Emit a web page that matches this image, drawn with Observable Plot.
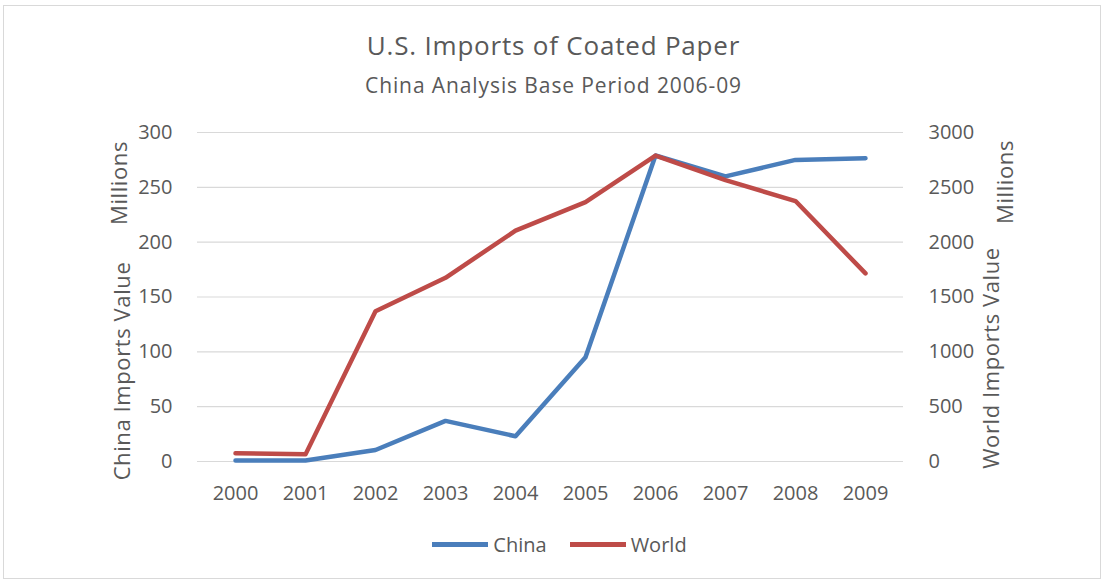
<!DOCTYPE html>
<html>
<head>
<meta charset="utf-8">
<script src="https://cdn.jsdelivr.net/npm/d3@7"></script>
<script src="https://cdn.jsdelivr.net/npm/@observablehq/plot@0.6"></script>
<style>
  html, body { margin: 0; padding: 0; background: #fff; }
  #wrap { position: relative; width: 1107px; height: 584px; overflow: hidden; font-family: "Open Sans", sans-serif; color: #595959; }
  #frame { position: absolute; left: 3px; top: 5px; width: 1098px; height: 574px; border: 1px solid #d9d9d9; box-sizing: border-box; }
  #chart { position: absolute; left: 0; top: 0; }
  .t { position: absolute; white-space: nowrap; }
  #title { left: 0; width: 1107px; text-align: center; top: 28px; font-size: 26px; letter-spacing: 0.8px; color: #595959; line-height: 34px; }
  #subtitle { left: 0; width: 1107px; text-align: center; top: 71px; font-size: 21px; letter-spacing: 0.9px; color: #595959; line-height: 28px; }
  .vlab { position: absolute; white-space: nowrap; transform: translate(-50%, -50%) rotate(-90deg); font-size: 22px; letter-spacing: 0.6px; color: #595959; }
  #legend { position: absolute; top: 531px; left: 6px; width: 1107px; display: flex; justify-content: center; gap: 23px; font-size: 20px; color: #595959; }
  .li { display: flex; align-items: center; gap: 5px; }
  .sw { display: inline-block; width: 56px; height: 5px; }
</style>
</head>
<body>
<div id="wrap">
  <div id="frame"></div>
  <div id="chart"></div>
  <div class="t" id="title">U.S. Imports of Coated Paper</div>
  <div class="t" id="subtitle">China Analysis Base Period 2006-09</div>
  <div class="vlab" style="left:121px; top:371px;">China Imports Value</div>
  <div class="vlab" style="left:118px; top:183px;">Millions</div>
  <div class="vlab" style="left:990px; top:358px;">World Imports Value</div>
  <div class="vlab" style="left:1004px; top:182px;">Millions</div>
  <div id="legend"></div>
</div>
<script>
const years = ["2000","2001","2002","2003","2004","2005","2006","2007","2008","2009"];
const china = [1, 1, 10.5, 37, 23, 95, 279, 260, 275, 276.5];
const world = [75, 65, 1370, 1675, 2105, 2365, 2790, 2565, 2375, 1715];
const leftTicks = [0, 50, 100, 150, 200, 250, 300];
const rightFactor = 10; // right axis 0–3000 maps onto left 0–300
const seriesNames = ["China", "World"];
const seriesColors = ["#4a7ebb", "#be4b48"];

const chinaRows = years.map((y, i) => ({year: y, v: china[i]}));
const worldRows = years.map((y, i) => ({year: y, v: world[i] / rightFactor}));

const plot = Plot.plot({
  width: 1107,
  height: 584,
  marginTop: 132,
  marginBottom: 123,
  marginLeft: 197,
  marginRight: 204,
  style: {fontFamily: "Open Sans, sans-serif", fontSize: "20px", color: "#595959", background: "transparent"},
  x: {type: "point", domain: years, padding: 0.5},
  y: {domain: [0, 300]},
  marks: [
    Plot.gridY(leftTicks, {stroke: "#d9d9d9", strokeOpacity: 1, strokeWidth: 1.2}),
    Plot.axisY(leftTicks, {anchor: "left", tickSize: 0, tickPadding: 25, label: null}),
    Plot.axisY(leftTicks, {anchor: "right", tickSize: 0, tickPadding: 25, label: null, tickFormat: d => String(d * rightFactor)}),
    Plot.axisX({tickSize: 0, tickPadding: 24, label: null}),
    Plot.line(chinaRows, {x: "year", y: "v", stroke: seriesColors[0], strokeWidth: 4.5, strokeLinejoin: "round"}),
    Plot.line(worldRows, {x: "year", y: "v", stroke: seriesColors[1], strokeWidth: 4.5, strokeLinejoin: "round"})
  ]
});
document.getElementById("chart").appendChild(plot);

const legend = document.getElementById("legend");
seriesNames.forEach((n, i) => {
  const d = document.createElement("div");
  d.className = "li";
  d.innerHTML = `<span class="sw" style="background:${seriesColors[i]}"></span><span>${n}</span>`;
  legend.appendChild(d);
});
</script>
</body>
</html>
